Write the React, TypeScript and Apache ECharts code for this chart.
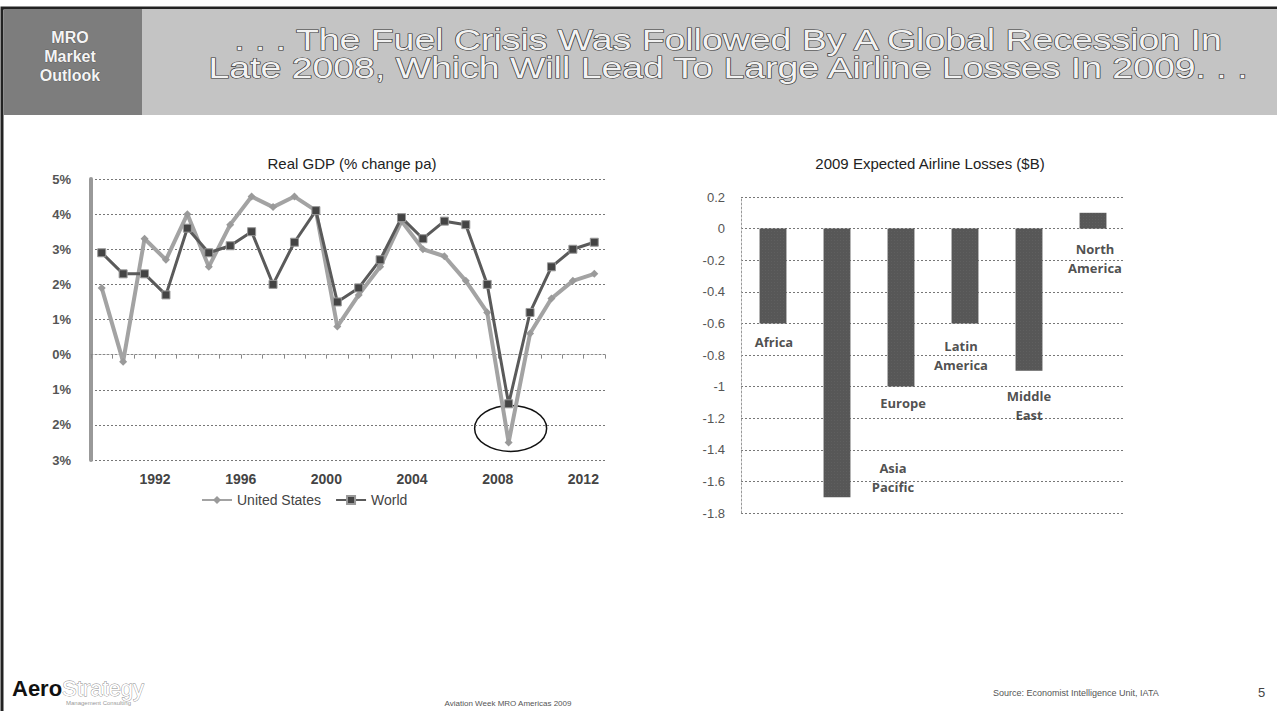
import React, { useEffect, useRef } from 'react';
import * as echarts from 'echarts';

// ---- data ----
const years = [
  '1990', '1991', '1992', '1993', '1994', '1995', '1996', '1997', '1998', '1999', '2000', '2001',
  '2002', '2003', '2004', '2005', '2006', '2007', '2008', '2009', '2010', '2011', '2012', '2013',
];
const usGrowth = [1.9, -0.2, 3.3, 2.7, 4.0, 2.5, 3.7, 4.5, 4.2, 4.5, 4.1, 0.8, 1.7, 2.5, 3.8, 3.0, 2.8, 2.1, 1.2, -2.5, 0.6, 1.6, 2.1, 2.3];
const worldGrowth = [2.9, 2.3, 2.3, 1.7, 3.6, 2.9, 3.1, 3.5, 2.0, 3.2, 4.1, 1.5, 1.9, 2.7, 3.9, 3.3, 3.8, 3.7, 2.0, -1.4, 1.2, 2.5, 3.0, 3.2];

const regions = ['Africa', 'Asia Pacific', 'Europe', 'Latin America', 'Middle East', 'North America'];
const regionLabels = ['Africa', 'Asia\nPacific', 'Europe', 'Latin\nAmerica', 'Middle\nEast', 'North\nAmerica'];
const losses = [-0.6, -1.7, -1.0, -0.6, -0.9, 0.1];

// label placement (style only)
const labelOffsets = [[1, 19], [56, -20], [2, 16], [-4, 32], [0, 35], [2, 46]];

const gridLine = { show: true, lineStyle: { color: '#777', type: [2, 2], width: 1 } };

export default function App() {
  const ref = useRef<HTMLDivElement>(null);

  useEffect(() => {
    document.body.style.margin = '0';
    const chart = echarts.init(ref.current!, null, { renderer: 'svg' });

    const option: any = {
      animation: false,
      backgroundColor: '#ffffff',
      title: [
        {
          text: 'Real GDP (% change pa)',
          left: 347,
          top: 151,
          textAlign: 'center',
          textStyle: { fontFamily: 'Arial', fontSize: 15, fontWeight: 'normal', color: '#222' },
        },
        {
          text: '2009 Expected Airline Losses ($B)',
          left: 925,
          top: 151,
          textAlign: 'center',
          textStyle: { fontFamily: 'Arial', fontSize: 15, fontWeight: 'normal', color: '#222' },
        },
      ],
      legend: {
        data: ['United States', 'World'],
        left: 196,
        top: 488,
        itemWidth: 30,
        itemHeight: 10,
        itemGap: 14,
        textStyle: { fontFamily: 'Arial', fontSize: 14, color: '#444' },
      },
      grid: [
        { left: 91, top: 179, width: 514, height: 281 },
        { left: 741, top: 197, width: 384, height: 316 },
      ],
      xAxis: [
        {
          gridIndex: 0,
          type: 'category',
          data: years,
          boundaryGap: true,
          axisLine: { show: true, lineStyle: { color: '#888', type: [2, 2] } },
          axisTick: { show: true, interval: 0, length: 4, lineStyle: { color: '#888' } },
          axisLabel: {
            interval: (i: number, v: string) => Number(v) % 4 === 0,
            fontFamily: 'Arial',
            fontSize: 14,
            fontWeight: 'bold',
            color: '#444',
            margin: 12,
            padding: [0, 0, 0, 21],
          },
          splitLine: { show: false },
        },
        {
          gridIndex: 1,
          type: 'category',
          data: regions,
          axisLine: { show: false },
          axisTick: { show: false },
          axisLabel: { show: false },
        },
      ],
      yAxis: [
        {
          gridIndex: 0,
          type: 'value',
          min: -3,
          max: 5,
          interval: 1,
          axisLine: { show: true, lineStyle: { color: '#999', width: 4 } },
          axisTick: { show: false },
          axisLabel: {
            formatter: (v: number) => Math.abs(v) + '%',
            fontFamily: 'Arial',
            fontSize: 13,
            fontWeight: 'bold',
            color: '#555',
            margin: 20,
          },
          splitLine: gridLine,
        },
        {
          gridIndex: 1,
          type: 'value',
          min: -1.8,
          max: 0.2,
          interval: 0.2,
          axisLine: { show: true, lineStyle: { color: '#999', type: [2, 2] } },
          axisTick: { show: false },
          axisLabel: {
            fontFamily: 'Arial',
            fontSize: 13,
            color: '#555',
            margin: 16,
          },
          splitLine: gridLine,
        },
      ],
      series: [
        {
          name: 'United States',
          type: 'line',
          xAxisIndex: 0,
          yAxisIndex: 0,
          data: usGrowth,
          symbol: 'diamond',
          symbolSize: 8,
          color: '#a0a0a0',
          lineStyle: { width: 4, color: '#a3a3a3' },
          itemStyle: { color: '#9a9a9a' },
        },
        {
          name: 'World',
          type: 'line',
          xAxisIndex: 0,
          yAxisIndex: 0,
          data: worldGrowth,
          symbol: 'rect',
          symbolSize: 8,
          color: '#555',
          lineStyle: { width: 3, color: '#5a5a5a' },
          itemStyle: { color: '#444', borderColor: '#999', borderWidth: 1 },
        },
        {
          name: 'Losses',
          type: 'bar',
          xAxisIndex: 1,
          yAxisIndex: 1,
          data: losses,
          barWidth: '42%',
          itemStyle: {
            color: '#575757',
            decal: {
              symbol: 'rect',
              symbolSize: 0.5,
              color: 'rgba(160,160,160,0.45)',
              dashArrayX: [1, 2],
              dashArrayY: [1, 2],
              rotation: 0,
            },
          },
        },
        {
          name: 'LossLabels',
          type: 'scatter',
          xAxisIndex: 1,
          yAxisIndex: 1,
          symbolSize: 1,
          itemStyle: { color: 'transparent' },
          silent: true,
          data: losses.map((v, i) => ({
            value: v,
            label: { offset: labelOffsets[i] },
          })),
          label: {
            show: true,
            position: 'inside',
            formatter: (p: any) => regionLabels[p.dataIndex],
            fontFamily: 'Open Sans',
            fontWeight: 'bold',
            fontSize: 13,
            lineHeight: 19,
            color: '#222',
            align: 'center',
          },
        },
      ],
      graphic: {
        elements: [
          { id: 'border', type: 'rect', shape: { x: 2, y: 8, width: 1300, height: 720 }, style: { fill: 'none', stroke: '#222', lineWidth: 3 }, silent: true },
          { id: 'banner', type: 'rect', shape: { x: 4, y: 9, width: 1275, height: 106 }, style: { fill: '#c4c4c4' }, silent: true },
          { id: 'box', type: 'rect', shape: { x: 4, y: 9, width: 138, height: 106 }, style: { fill: '#7d7d7d' }, silent: true },
          {
            id: 'boxText', type: 'text', x: 70, y: 28,
            style: { text: 'MRO\nMarket\nOutlook', fill: '#f4f4f4', font: 'bold 16px Arial', lineHeight: 19, align: 'center', stroke: '#444', lineWidth: 0.6 },
          },
          {
            id: 'headline', type: 'text', x: 728, y: 26, scaleX: 1.29,
            style: {
              text: '. . . The Fuel Crisis Was Followed By A Global Recession In\nLate 2008, Which Will Lead To Large Airline Losses In 2009. . .',
              fill: '#f2f2f2', font: '29px Arial', lineHeight: 28, align: 'center', stroke: '#333', lineWidth: 1.2,
            },
          },
          {
            id: 'logo', type: 'text', x: 12, y: 677,
            style: {
              text: '{a|Aero}{b|Strategy}',
              rich: {
                a: { font: 'bold 22px Arial', fill: '#111' },
                b: { font: '22px Arial', fill: '#fff', stroke: '#888', lineWidth: 0.8 },
              },
            },
          },
          { id: 'tag', type: 'text', x: 66, y: 700, style: { text: 'Management Consulting', font: '6px Arial', fill: '#999' } },
          { id: 'event', type: 'text', x: 508, y: 699, style: { text: 'Aviation Week MRO Americas 2009', font: '8px Arial', fill: '#555', align: 'center' } },
          { id: 'source', type: 'text', x: 993, y: 688, style: { text: 'Source: Economist Intelligence Unit, IATA', font: '9px Arial', fill: '#555' } },
          { id: 'page', type: 'text', x: 1258, y: 686, style: { text: '5', font: '13px Arial', fill: '#444' } },
        ],
      },
    };

    chart.setOption(option);

    const c = chart.convertToPixel({ xAxisIndex: 0, yAxisIndex: 0 }, ['2009', -2.1]) as number[];
    chart.setOption({
      graphic: {
        elements: [
          {
            id: 'trough', type: 'ellipse',
            shape: { cx: c[0] + 2, cy: c[1], rx: 36, ry: 23 },
            style: { fill: 'none', stroke: '#111', lineWidth: 1.5 },
            silent: true,
          },
        ],
      },
    });

    return () => chart.dispose();
  }, []);

  return <div ref={ref} style={{ width: 1277, height: 711 }} />;
}
